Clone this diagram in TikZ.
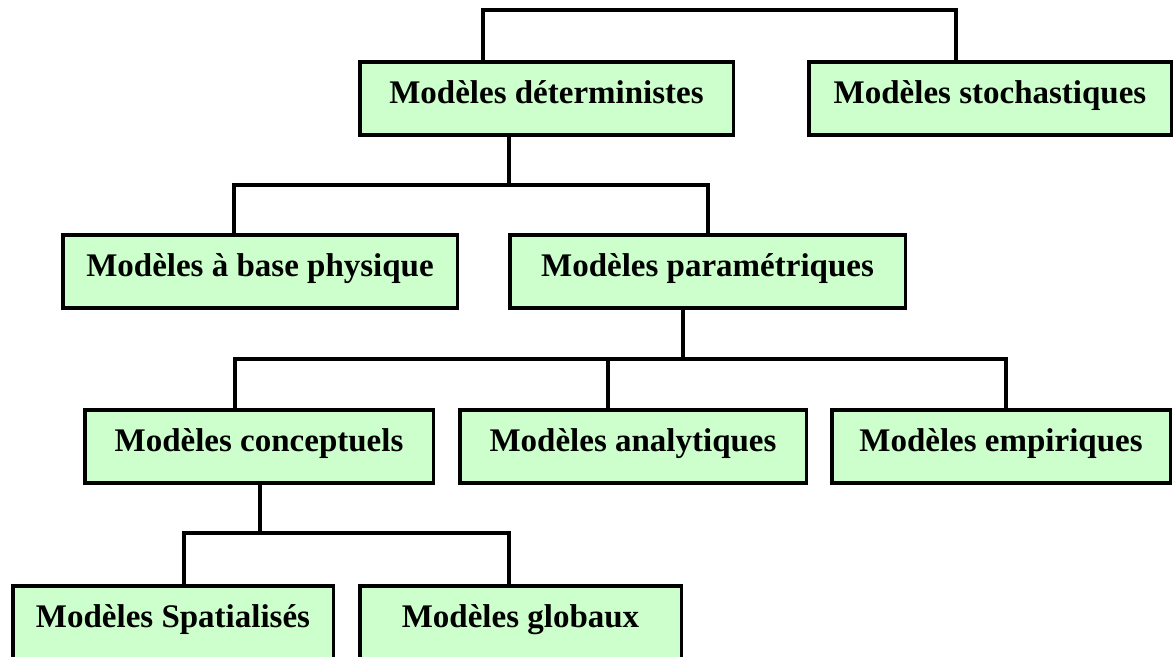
\documentclass[tikz,border=0pt]{standalone}
\usepackage{fontspec}
\setmainfont{Liberation Serif}
\usepackage{xcolor}
\usepackage{tikz}
\usetikzlibrary{calc}

\definecolor{vertclair}{HTML}{CCFFCC}
\tikzset{
  modele/.style={draw, line width=1.75pt, fill=vertclair, inner sep=0pt,
    minimum height=36.5pt, text height=11pt, text depth=6pt,
    font=\fontsize{16.5}{20}\selectfont\bfseries},
  lien/.style={line width=1.6pt}
}

\begin{document}
\begin{tikzpicture}[x=0.5pt, y=-0.5pt]
      \useasboundingbox (0, 0) rectangle (1173, 657);
      \clip (0, 0) rectangle (1173, 657);

      \node[modele, minimum width=186.75pt] (det) at (546.5, 98.5){Modèles déterministes};
      \node[modele, minimum width=181.25pt] (sto) at (990, 98.5){Modèles stochastiques};
      \node[modele, minimum width=197.25pt] (phys) at (260, 271.5){Modèles à base physique};
      \node[modele, minimum width=197.75pt] (para) at (707.5, 271.5){Modèles paramétriques};
      \node[modele, minimum width=174.25pt] (conc) at (259, 446.5){Modèles conceptuels};
      \node[modele, minimum width=173.25pt] (anal) at (633, 446.5){Modèles analytiques};
      \node[modele, minimum width=169.25pt] (emp) at (1001, 446.5){Modèles empiriques};
      \node[modele, minimum width=160.25pt] (spat) at (173, 622.5){Modèles Spatialisés};
      \node[modele, minimum width=160.75pt] (glob) at (520.5, 622.5){Modèles globaux};

      \coordinate (r0) at (720, 10);
      \coordinate (r1) at (509, 185);
      \coordinate (r2) at (683, 359);
      \coordinate (r3) at (260, 533);

      \draw[lien] ($(det.north)+(-63.5, 0)$) |- (r0) -| ($(sto.north)+(-34, 0)$);

      \draw[lien] ($(det.south)+(-37.5, 0)$) -- (r1);
      \draw[lien] ($(phys.north)+(-26, 0)$) |- (r1) -| ($(para.north)+(0.5, 0)$);

      \draw[lien] ($(para.south)+(-24.5, 0)$) -- (r2);
      \draw[lien] ($(conc.north)+(-24, 0)$) |- (r2) -| ($(emp.north)+(5, 0)$);
      \draw[lien] ($(anal.north)+(-25, 0)$) |- (r2);

      \draw[lien] ($(conc.south)+(1, 0)$) -- (r3);
      \draw[lien] ($(spat.north)+(11, 0)$) |- (r3) -| ($(glob.north)+(-11.5, 0)$);
    \end{tikzpicture}
\end{document}
